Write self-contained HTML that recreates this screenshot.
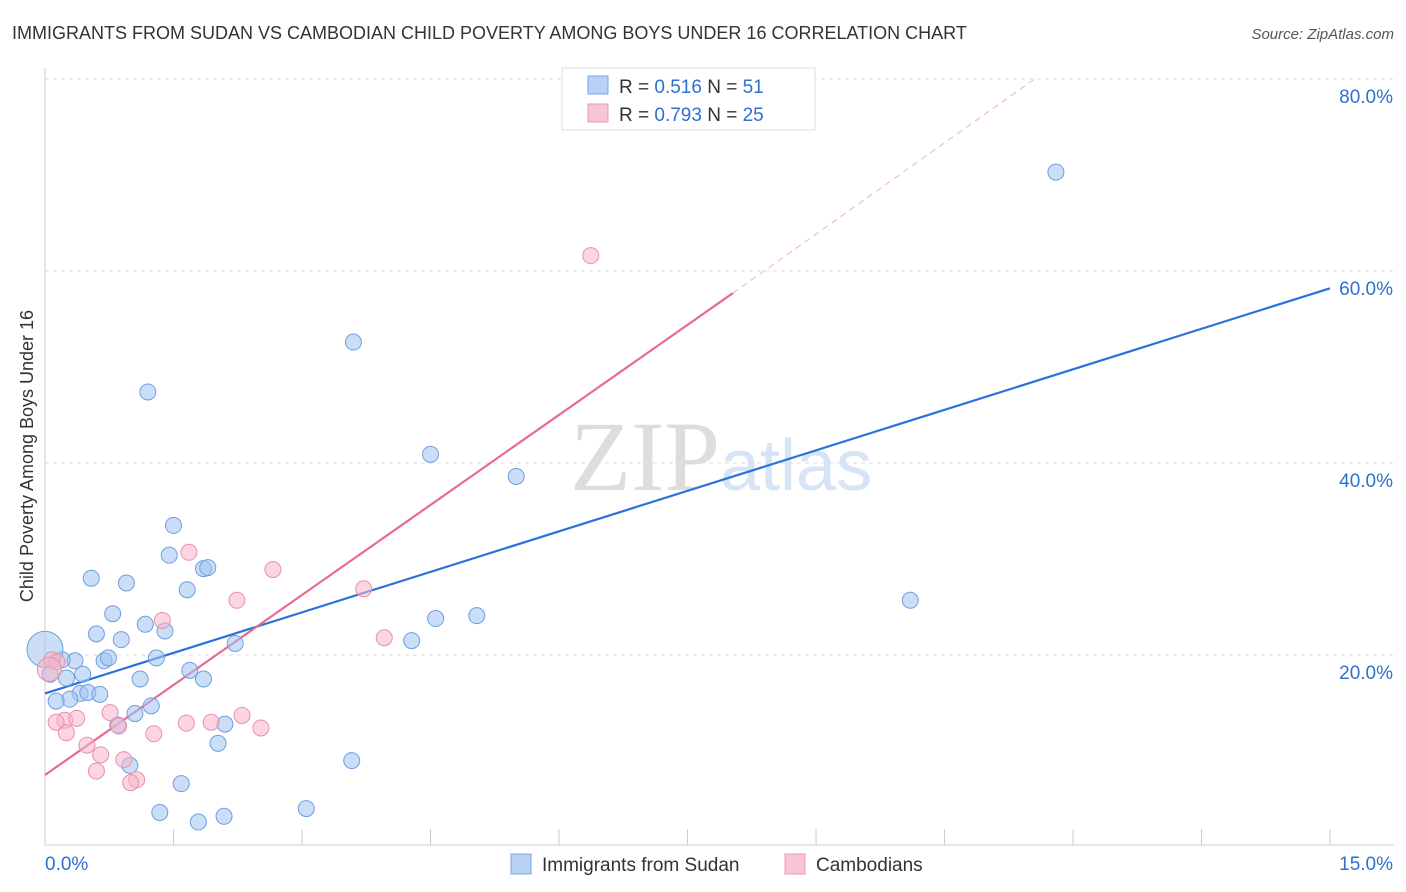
<!DOCTYPE html>
<html><head><meta charset="utf-8">
<style>
body{margin:0;background:#fff;font-family:"Liberation Sans",sans-serif;}
#c{position:relative;width:1406px;height:892px;overflow:hidden}
</style></head>
<body>
<div id="c">
<svg id="s" width="1406" height="892" xmlns="http://www.w3.org/2000/svg">
<text x="12" y="39" font-size="18" fill="#333">IMMIGRANTS FROM SUDAN VS CAMBODIAN CHILD POVERTY AMONG BOYS UNDER 16 CORRELATION CHART</text>
<text x="1394" y="39" font-size="15" fill="#555" font-style="italic" text-anchor="end">Source: ZipAtlas.com</text>
<text x="33" y="456" font-size="18" fill="#333" text-anchor="middle" transform="rotate(-90 33 456)">Child Poverty Among Boys Under 16</text>
<text x="720" y="490" font-size="100" fill="#ddd" text-anchor="end" font-family="Liberation Serif">ZIP</text>
<text x="720" y="490" font-size="72" fill="#d6e4f5">atlas</text>
<g id="grid"></g><g id="axes"></g><g id="lines"></g><g id="pts"></g>
<g>
<rect x="562" y="68" width="253" height="62" fill="#fff" stroke="#ddd"/>
<rect x="588" y="76" width="20" height="18" fill="#b7d2f5" stroke="#7aa6e2"/>
<rect x="588" y="104" width="20" height="18" fill="#f9c4d4" stroke="#eb98b3"/>
<text x="619" y="93" font-size="19" fill="#333">R = <tspan fill="#2f6fd0">0.516</tspan>   N = <tspan fill="#2f6fd0">51</tspan></text>
<text x="619" y="121" font-size="19" fill="#333">R = <tspan fill="#2f6fd0">0.793</tspan>   N = <tspan fill="#2f6fd0">25</tspan></text>
</g>
<g>
<rect x="511" y="854" width="20" height="20" fill="#b7d2f5" stroke="#7aa6e2"/>
<text x="542" y="871" font-size="19" fill="#333">Immigrants from Sudan</text>
<rect x="785" y="854" width="20" height="20" fill="#f9c4d4" stroke="#eb98b3"/>
<text x="816" y="871" font-size="19" fill="#333">Cambodians</text>
</g>
</svg>
</div>
<script>
const yTicks=[20,40,60,80];
const xTickLabels=["0.0%","15.0%"];
const sudanX=[11.8,3.6,1.2,4.5,5.5,1.5,1.45,0.54,0.95,1.66,1.85,1.9,10.1,0.79,1.17,1.4,0.6,0.89,2.22,4.56,5.04,4.28,0.35,0.2,0.69,0.74,1.3,0.44,0.25,1.11,1.69,1.85,0.41,0.5,0.64,0.29,0.13,1.24,1.05,0.85,2.1,2.02,0.99,3.58,1.59,1.34,1.79,2.09,3.05,0.0,0.06];
const sudanY=[70.3,52.6,47.4,40.9,38.6,33.5,30.4,28.0,27.5,26.8,29.0,29.1,25.7,24.3,23.2,22.5,22.2,21.6,21.2,23.8,24.1,21.5,19.4,19.5,19.4,19.7,19.7,18.0,17.6,17.5,18.4,17.5,16.0,16.1,15.9,15.4,15.2,14.7,13.9,12.7,12.8,10.8,8.5,9.0,6.6,3.6,2.6,3.2,4.0,20.6,18.0];
const sudanR=[8,8,8,8,8,8,8,8,8,8,8,8,8,8,8,8,8,8,8,8,8,8,8,8,8,8,8,8,8,8,8,8,8,8,8,8,8,8,8,8,8,8,8,8,8,8,8,8,8,18,8];
const cambX=[6.37,1.68,2.66,2.24,3.72,1.37,3.96,0.08,0.14,0.23,0.37,0.13,0.76,0.86,1.65,1.94,2.3,2.52,1.27,0.25,0.49,0.65,0.92,0.6,1.07,1.0,0.05];
const cambY=[61.6,30.7,28.9,25.7,26.9,23.6,21.8,19.5,19.3,13.2,13.4,13.0,14.0,12.6,12.9,13.0,13.7,12.4,11.8,11.9,10.6,9.6,9.1,7.9,7.0,6.7,18.5];
const cambR=[8,8,8,8,8,8,8,8,8,8,8,8,8,8,8,8,8,8,8,8,8,8,8,8,8,8,12];
const sudanLine=[[0,16.0],[15,58.2]];
const cambLine=[[0,7.5],[8.03,57.7],[11.55,80]];
const X=v=>45+v*85.67, Y=v=>847-v*9.6;
const NS="http://www.w3.org/2000/svg";
function mk(t,a,p){const e=document.createElementNS(NS,t);for(const k in a)e.setAttribute(k,a[k]);p.appendChild(e);return e;}
const grid=document.getElementById('grid'),axes=document.getElementById('axes'),lines=document.getElementById('lines'),pts=document.getElementById('pts');
yTicks.forEach(t=>{
 const l=mk('line',{x1:45,x2:1394,y1:Y(t),y2:Y(t),stroke:'#ddd','stroke-dasharray':'4,4'},grid);
 
 
 const tx=mk('text',{x:1393,y:Y(t)+24,'font-size':19,fill:'#2f6fd0','text-anchor':'end'},axes);
 tx.textContent=t.toFixed(1)+'%';
 
 
});
const ax=mk('line',{x1:45,x2:1394,y1:845,y2:845,stroke:'#ccc'},axes);


const ay=mk('line',{x1:45,x2:45,y1:68,y2:845,stroke:'#ccc'},axes);


for(let i=0;i<=10;i++){
 const tk=mk('line',{x1:X(i*1.5),x2:X(i*1.5),y1:829,y2:845,stroke:'#ccc'},axes);
 
 
}
[[0,'start',xTickLabels[0],45],[15,'end',xTickLabels[1],1393]].forEach(([v,a,s,px])=>{
 const t=mk('text',{x:px,y:870,'font-size':19,fill:'#2f6fd0','text-anchor':a},axes);
 t.textContent=s;
 
 
});
const bl=mk('line',{x1:X(sudanLine[0][0]),y1:Y(sudanLine[0][1]),x2:X(sudanLine[1][0]),y2:Y(sudanLine[1][1]),stroke:'#2a72d8','stroke-width':2.2},lines);


const pl=mk('line',{x1:X(cambLine[0][0]),y1:Y(cambLine[0][1]),x2:X(cambLine[1][0]),y2:Y(cambLine[1][1]),stroke:'#e86a93','stroke-width':2.2},lines);


const pd=mk('line',{x1:X(cambLine[1][0]),y1:Y(cambLine[1][1]),x2:X(cambLine[2][0]),y2:Y(cambLine[2][1]),stroke:'#ebb0c3','stroke-width':1,'stroke-dasharray':'6,5'},lines);


sudanX.forEach((v,i)=>{
 const c=mk('circle',{cx:X(v),cy:Y(sudanY[i]),r:sudanR[i],fill:'rgba(160,195,240,0.55)',stroke:'#6e9ee0','stroke-width':1},pts);
 
 
});
cambX.forEach((v,i)=>{
 const c=mk('circle',{cx:X(v),cy:Y(cambY[i]),r:cambR[i],fill:'rgba(247,180,202,0.55)',stroke:'#e890ad','stroke-width':1},pts);
 
 
});
</script>
</body></html>
